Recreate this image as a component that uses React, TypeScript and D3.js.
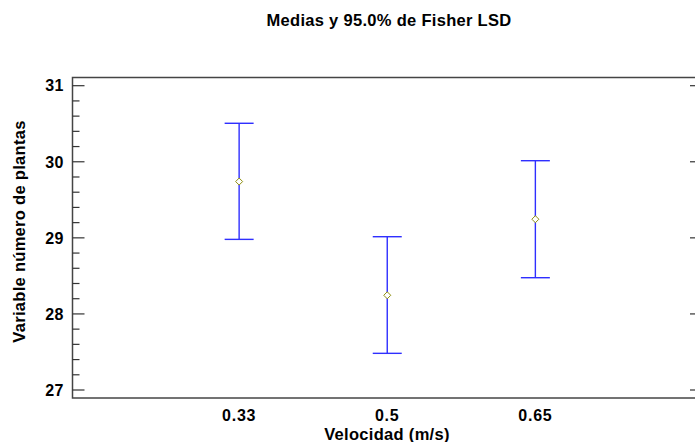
import React, { useEffect, useRef } from "react";
import * as d3 from "d3";

// Fisher LSD means plot
const categories = ["0.33", "0.5", "0.65"];
const means = [29.74, 28.245, 29.245];
const lower = [28.98, 27.482, 28.476];
const upper = [30.506, 29.015, 30.014];
const yTicks = [27, 28, 29, 30, 31];

const W = 695;
const H = 442;
const box = { left: 72.5, right: 702, top: 77.5, bottom: 398 };
const font = "'Liberation Sans', Arial, sans-serif";
const blue = "#2f2fff";

export default function App() {
  const ref = useRef<SVGSVGElement>(null);

  useEffect(() => {
    const svg = d3.select(ref.current);
    svg.selectAll("*").remove();

    const x = d3.scalePoint<string>()
      .domain(categories)
      .range([box.left, box.right])
      .padding(1.125);

    const y = d3.scaleLinear()
      .domain([27, 31])
      .range([390, 85.7]);

    // frame
    svg.append("rect")
      .attr("x", box.left)
      .attr("y", box.top)
      .attr("width", box.right - box.left)
      .attr("height", box.bottom - box.top)
      .attr("fill", "none")
      .attr("stroke", "#444")
      .attr("stroke-width", 1.5);

    // ticks on both sides, pointing inward
    const minor = d3.range(27, 31.001, 0.2);
    const tg = svg.append("g").attr("stroke", "#333").attr("stroke-width", 1.2);
    minor.forEach((v) => {
      const isMajor = Math.abs(v - Math.round(v)) < 1e-6;
      const len = isMajor ? 12 : 7;
      tg.append("line")
        .attr("x1", box.left).attr("x2", box.left + len)
        .attr("y1", y(v)).attr("y2", y(v));
      tg.append("line")
        .attr("x1", box.right).attr("x2", box.right - len)
        .attr("y1", y(v)).attr("y2", y(v));
    });

    svg.append("g")
      .selectAll("text")
      .data(yTicks)
      .join("text")
      .attr("x", 64)
      .attr("y", (d) => y(d))
      .attr("dy", "0.36em")
      .attr("text-anchor", "end")
      .attr("font-family", font)
      .attr("font-weight", "bold")
      .attr("font-size", 16)
      .attr("letter-spacing", 0.5)
      .text((d) => d);

    svg.append("g")
      .selectAll("text")
      .data(categories)
      .join("text")
      .attr("x", (d) => x(d)!)
      .attr("y", 421)
      .attr("text-anchor", "middle")
      .attr("font-family", font)
      .attr("font-weight", "bold")
      .attr("font-size", 16)
      .attr("letter-spacing", 0.8)
      .text((d) => d);

    // error bars
    const bars = svg.append("g").attr("stroke", blue).attr("stroke-width", 1.4).attr("fill", "none");
    categories.forEach((c, i) => {
      const cx = x(c)!;
      bars.append("line").attr("x1", cx).attr("x2", cx).attr("y1", y(upper[i])).attr("y2", y(lower[i]));
      bars.append("line").attr("x1", cx - 14.5).attr("x2", cx + 14.5).attr("y1", y(upper[i])).attr("y2", y(upper[i]));
      bars.append("line").attr("x1", cx - 14.5).attr("x2", cx + 14.5).attr("y1", y(lower[i])).attr("y2", y(lower[i]));
    });

    // mean markers
    svg.append("g")
      .selectAll("path")
      .data(means)
      .join("path")
      .attr("d", (d, i) => {
        const cx = x(categories[i])!;
        const cy = y(d);
        return `M${cx - 3.5},${cy}L${cx},${cy - 3.5}L${cx + 3.5},${cy}L${cx},${cy + 3.5}Z`;
      })
      .attr("fill", "white")
      .attr("stroke", "#8f8f10")
      .attr("stroke-width", 1);

    // titles
    svg.append("text")
      .attr("x", 389)
      .attr("y", 26)
      .attr("text-anchor", "middle")
      .attr("font-family", font)
      .attr("font-weight", "bold")
      .attr("font-size", 16.5)
      .attr("letter-spacing", 0.3)
      .text("Medias y 95.0% de Fisher LSD");

    svg.append("text")
      .attr("x", 387)
      .attr("y", 440)
      .attr("text-anchor", "middle")
      .attr("font-family", font)
      .attr("font-weight", "bold")
      .attr("font-size", 16.5)
      .attr("letter-spacing", 0.3)
      .text("Velocidad (m/s)");

    svg.append("text")
      .attr("transform", "translate(25,231.5) rotate(-90)")
      .attr("text-anchor", "middle")
      .attr("font-family", font)
      .attr("font-weight", "bold")
      .attr("font-size", 16.5)
      .attr("letter-spacing", 0.3)
      .text("Variable número de plantas");
  }, []);

  return (
    <svg
      ref={ref}
      width={W}
      height={H}
      style={{ position: "absolute", left: 0, top: 0, background: "white" }}
    />
  );
}
